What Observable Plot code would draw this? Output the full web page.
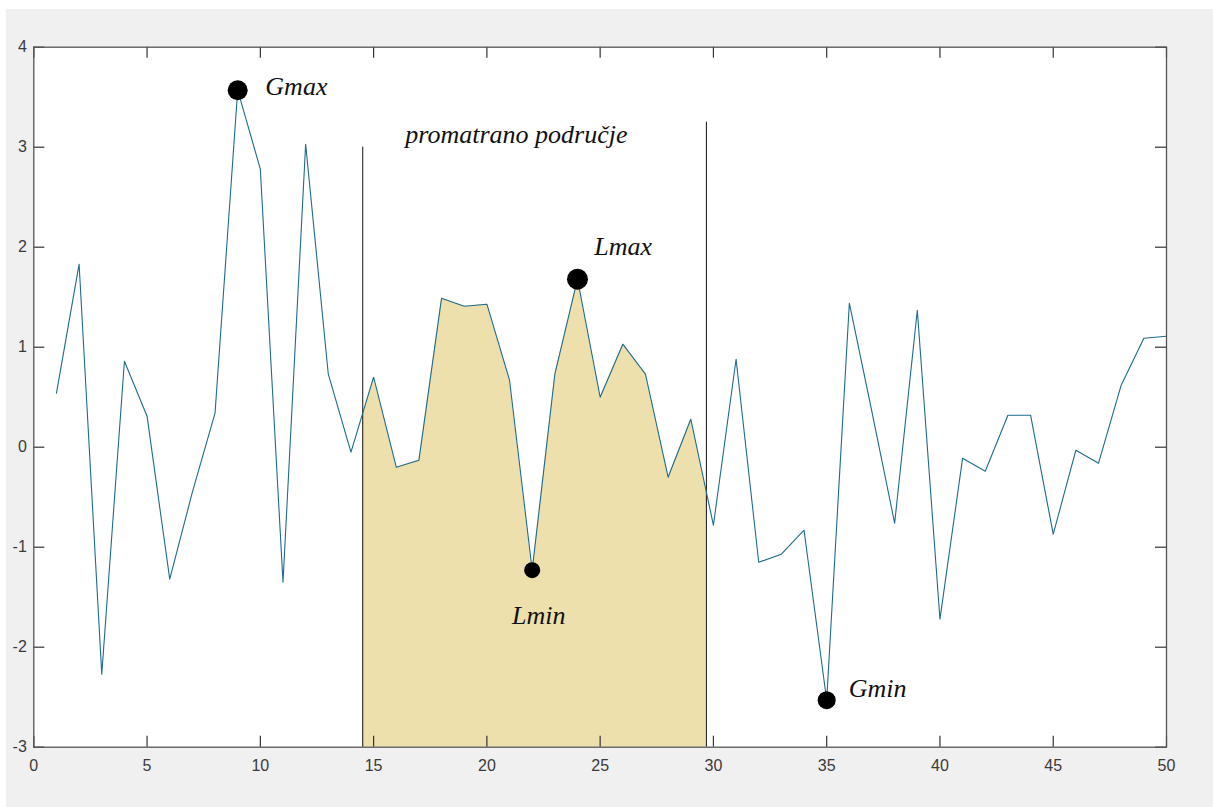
<!DOCTYPE html>
<html>
<head>
<meta charset="utf-8">
<script src="https://cdn.jsdelivr.net/npm/d3@7"></script>
<script src="https://cdn.jsdelivr.net/npm/@observablehq/plot@0.6"></script>
<style>
  html, body { margin: 0; padding: 0; background: #ffffff; }
  #chart { position: absolute; left: 6px; top: 9px; width: 1207px; height: 798px; background: #f0f0f0; }
  #chart svg { display: block; background: #f0f0f0; }
</style>
</head>
<body>
<div id="chart"></div>
<script>
// ---- data ----
const xs = d3.range(1, 51);
const values = [
  0.54, 1.83, -2.27, 0.86, 0.31, -1.32, -0.45, 0.34, 3.57, 2.78,
  -1.35, 3.03, 0.73, -0.05, 0.70, -0.20, -0.13, 1.49, 1.41, 1.43,
  0.67, -1.23, 0.73, 1.68, 0.50, 1.03, 0.73, -0.30, 0.28, -0.78,
  0.88, -1.15, -1.07, -0.83, -2.53, 1.44, 0.35, -0.76, 1.37, -1.72,
  -0.11, -0.24, 0.32, 0.32, -0.87, -0.03, -0.16, 0.62, 1.09, 1.11
];
const xTicks = [0, 5, 10, 15, 20, 25, 30, 35, 40, 45, 50];
const yTicks = [-3, -2, -1, 0, 1, 2, 3, 4];
const regionStart = 14.52;
const regionEnd = 29.69;
const regionLineTops = [3.0, 3.25];           // heights of the two vertical boundary lines
const markerNames = ["Gmax", "Lmax", "Lmin", "Gmin"];
const markerX = [9, 24, 22, 35];
const labelNames = ["Gmax", "Lmax", "Lmin", "Gmin", "promatrano područje"];
const labelX = [10.22, 24.74, 21.11, 35.97, 16.4];
const labelY = [3.52, 1.92, -1.77, -2.5, 3.04];

// ---- derived tables ----
const series = xs.map((x, i) => ({x, y: values[i]}));
function valueAt(x) {
  const i = Math.max(0, Math.min(series.length - 2, Math.floor(x) - 1));
  const a = series[i], b = series[i + 1];
  return a.y + (b.y - a.y) * (x - a.x) / (b.x - a.x);
}
const region = [
  {x: regionStart, y: valueAt(regionStart)},
  ...series.filter(d => d.x > regionStart && d.x < regionEnd),
  {x: regionEnd, y: valueAt(regionEnd)}
];
const boundaries = [
  {x: regionStart, top: regionLineTops[0]},
  {x: regionEnd, top: regionLineTops[1]}
];
const markers = markerNames.map((name, i) => ({name, x: markerX[i], y: values[markerX[i] - 1]}));
const labels = labelNames.map((text, i) => ({text, x: labelX[i], y: labelY[i]}));

const W = 1207, H = 798;
const mL = 27.3, mR = 47, mT = 37.7, mB = 60.3;
const innerW = W - mL - mR, innerH = H - mT - mB;
const tickLen = 11;
const tickFont = "'Liberation Sans Narrow', 'Liberation Sans', Arial, sans-serif";
const annFont = "'Liberation Serif', 'Times New Roman', serif";
const dotR = {Gmax: 10, Lmax: 10.5, Lmin: 8, Gmin: 9};
const fmt = d => String(d);

const chart = Plot.plot({
  width: W,
  height: H,
  marginLeft: mL,
  marginRight: mR,
  marginTop: mT,
  marginBottom: mB,
  style: {background: "#f0f0f0"},
  x: {domain: [0, 50], label: null},
  y: {domain: [-3, 4], label: null},
  r: {type: "identity"},
  marks: [
    Plot.frame({fill: "white", stroke: null}),
    Plot.areaY(region, {x: "x", y1: -3, y2: "y", fill: "#ede0ac", curve: "linear"}),
    Plot.ruleX(boundaries, {x: "x", y1: -3, y2: "top", stroke: "#111", strokeWidth: 1}),
    Plot.line(series, {x: "x", y: "y", stroke: "#1d6b8e", strokeWidth: 1.1}),
    Plot.dot(markers, {x: "x", y: "y", r: d => dotR[d.name], fill: "black", stroke: null}),
    Plot.text(labels, {x: "x", y: "y", text: "text", textAnchor: "start", lineAnchor: "bottom",
      fontFamily: annFont, fontStyle: "italic", fontSize: 26, fill: "#111"}),
    // inward tick marks on all four sides
    Plot.ruleX(xTicks, {x: d => d, insetTop: innerH - tickLen, stroke: "#333", strokeWidth: 1.2}),
    Plot.ruleX(xTicks, {x: d => d, insetBottom: innerH - tickLen, stroke: "#333", strokeWidth: 1.2}),
    Plot.ruleY(yTicks, {y: d => d, insetRight: innerW - tickLen, stroke: "#333", strokeWidth: 1.2}),
    Plot.ruleY(yTicks, {y: d => d, insetLeft: innerW - tickLen, stroke: "#333", strokeWidth: 1.2}),
    Plot.axisX(xTicks, {anchor: "bottom", tickSize: 0, tickPadding: 12, fontSize: 16,
      fontFamily: tickFont, fill: "#3a3a3a", tickFormat: fmt, label: null}),
    Plot.axisY(yTicks, {anchor: "left", tickSize: 0, tickPadding: 7, fontSize: 16,
      fontFamily: tickFont, fill: "#3a3a3a", tickFormat: fmt, label: null}),
    Plot.frame({stroke: "#555", strokeWidth: 1.3})
  ]
});
document.getElementById("chart").appendChild(chart);
</script>
</body>
</html>
